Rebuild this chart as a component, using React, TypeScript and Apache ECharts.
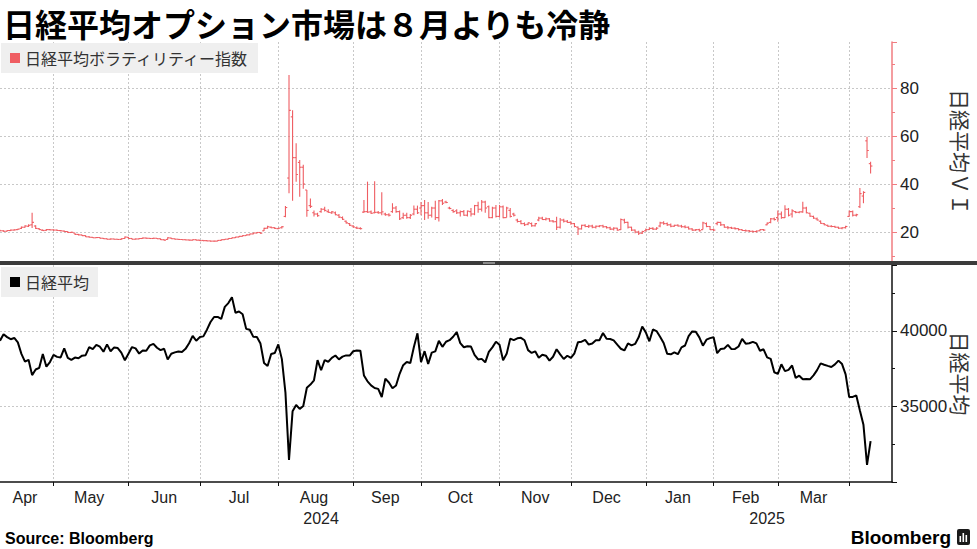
import React, { useEffect, useRef } from "react";
import * as echarts from "echarts";

const TITLE = "日経平均オプション市場は８月よりも冷静";
const VI_NAME = "日経平均ボラティリティー指数";
const NK_NAME = "日経平均";
const VI_AXIS_NAME = "日経平均ＶＩ";
const NK_AXIS_NAME = "日経平均";
const SOURCE = "Source: Bloomberg";
const BRAND = "Bloomberg";

// trading calendar (Tokyo) shown on the x axis
const START_DATE = "2024-04-08";
const END_DATE = "2025-04-16";
const HOLIDAYS = [
  "2024-04-29", "2024-05-03", "2024-05-06", "2024-07-15", "2024-08-12",
  "2024-09-16", "2024-09-23", "2024-10-14", "2024-11-04", "2024-12-31",
  "2025-01-01", "2025-01-02", "2025-01-03", "2025-01-13", "2025-02-11",
  "2025-02-24", "2025-03-20",
];
const MONTH_NAMES = ["Jan", "Feb", "Mar", "Apr", "May", "Jun", "Jul", "Aug", "Sep", "Oct", "Nov", "Dec"];

// Nikkei 225 close, one value per trading day from 2024-04-08
const nikkei = [
  // Apr 2024
  39347, 39773, 39581, 39442, 39523, 39232, 38471, 37962, 38079, 37068, 37438, 37552, 38460, 37628, 37934, 38405,
  // May
  38274, 38236, 38835, 38202, 38073, 38229, 38179, 38356, 38385, 38920, 38787, 39069, 38946, 38617, 39103, 38646, 38900, 38855, 38556, 38054, 38487,
  // Jun
  38923, 38837, 38490, 38703, 38683, 39038, 39134, 38876, 38720, 38814, 38102, 38482, 38570, 38633, 38596, 38804, 39173, 39667, 39341, 39583,
  // Jul
  39631, 40074, 40580, 40913, 40912, 40780, 41580, 41831, 42224, 41190, 41275, 41097, 40126, 40063, 39599, 39594, 39154, 37869, 37667, 38468, 38525, 39101,
  // Aug
  38126, 35909, 31458, 34675, 35089, 34831, 35025, 36232, 36442, 36726, 38062, 37388, 38062, 37951, 38211, 38364, 38110, 38288, 38371, 38362, 38647,
  // Sep
  38700, 38686, 37047, 36657, 36391, 36216, 36159, 35620, 36833, 36581, 36203, 36380, 37155, 37723, 37940, 37870, 38925, 39829, 37919,
  // Oct
  38651, 37808, 38552, 38635, 39332, 38937, 39277, 39380, 39605, 39910, 39180, 38911, 38981, 38954, 38411, 38104, 38143, 37913, 38605, 38903, 39277, 39081,
  // Nov
  38053, 38474, 39480, 39381, 39500, 39533, 39376, 38721, 38535, 38642, 38220, 38414, 38352, 38026, 38283, 38780, 38442, 38134, 38349, 38208,
  // Dec
  38513, 39248, 39276, 39395, 39091, 39161, 39367, 39372, 39849, 39470, 39457, 39364, 39081, 38813, 38701, 39161, 39036, 39130, 39568, 40281, 39894,
  // Jan 2025
  39307, 40083, 39981, 39605, 39190, 38474, 38444, 38572, 38451, 38902, 39027, 39646, 39958, 39931, 39565, 39016, 39414, 39513, 39572,
  // Feb
  38520, 38798, 38831, 39066, 38787, 38801, 38963, 39461, 39149, 39174, 39270, 39164, 38678, 38776, 38237, 38142, 37256, 37155,
  // Mar
  37785, 37331, 37418, 37704, 36887, 37028, 36793, 36819, 36790, 37053, 37396, 37845, 37751, 37677, 37608, 37780, 38027, 37799, 37120, 35617,
  // Apr 2025
  35624, 35725, 34735, 33780, 31136, 32700,
];

// Nikkei VI daily bars: [open, high, low, close]
const viOHLC = [
  // Apr 2024
  [20.6, 20.9, 20.3, 20.5], [20.5, 20.7, 20.1, 20.3], [20.3, 20.8, 20.2, 20.6], [20.6, 21.0, 20.4, 20.8],
  [20.8, 21.1, 20.6, 20.9], [21.0, 21.4, 20.8, 21.2], [21.5, 22.3, 21.3, 22.0], [22.0, 22.8, 21.8, 22.5],
  [22.4, 23.2, 22.1, 22.8], [23.0, 28.0, 21.7, 24.0], [22.5, 22.8, 21.3, 21.5], [21.4, 21.6, 20.8, 21.0],
  [20.8, 21.0, 20.4, 20.6], [20.7, 21.3, 20.5, 21.0], [21.0, 21.2, 20.7, 20.9], [20.9, 21.1, 20.5, 20.8],
  // May
  [20.8, 21.0, 20.4, 20.6], [20.6, 20.8, 20.3, 20.5], [20.4, 20.6, 20.0, 20.2], [20.2, 20.3, 19.6, 19.8],
  [19.8, 20.1, 19.6, 19.9], [19.6, 19.7, 18.9, 19.0], [19.0, 19.2, 18.6, 18.8], [18.8, 18.9, 18.3, 18.5],
  [18.5, 18.6, 17.9, 18.0], [18.0, 18.2, 17.7, 17.8], [17.8, 17.9, 17.5, 17.6], [17.6, 17.9, 17.5, 17.7],
  [17.7, 17.8, 17.3, 17.4], [17.4, 17.5, 17.1, 17.2], [17.2, 17.3, 16.9, 17.0], [17.0, 17.3, 16.9, 17.1],
  [17.1, 17.2, 16.9, 17.0], [17.0, 17.1, 16.8, 16.9], [16.9, 17.4, 16.8, 17.2], [17.3, 18.1, 17.2, 17.9],
  [17.8, 17.9, 17.2, 17.3],
  // Jun
  [17.3, 17.4, 16.9, 17.0], [17.0, 17.3, 16.9, 17.1], [17.1, 17.5, 17.0, 17.3], [17.3, 17.7, 17.2, 17.5],
  [17.5, 17.6, 17.2, 17.4], [17.4, 17.5, 17.1, 17.3], [17.3, 17.6, 17.2, 17.4], [17.4, 17.5, 17.1, 17.2],
  [17.2, 17.3, 16.7, 16.8], [16.8, 16.9, 16.5, 16.6], [16.9, 17.8, 16.8, 17.6], [17.5, 17.6, 17.1, 17.2],
  [17.2, 17.3, 16.9, 17.0], [17.0, 17.1, 16.8, 16.9], [16.9, 17.0, 16.7, 16.8], [16.8, 16.9, 16.6, 16.7],
  [16.7, 16.8, 16.5, 16.6], [16.6, 16.9, 16.5, 16.8], [16.8, 16.9, 16.5, 16.6], [16.6, 16.7, 16.3, 16.4],
  // Jul
  [16.5, 16.6, 16.2, 16.4], [16.4, 16.5, 16.1, 16.3], [16.3, 16.4, 16.0, 16.2], [16.2, 16.4, 16.0, 16.2],
  [16.2, 16.6, 16.1, 16.5], [16.5, 16.9, 16.4, 16.8], [16.8, 17.1, 16.7, 17.0], [17.0, 17.4, 16.9, 17.3],
  [17.3, 17.7, 17.2, 17.6], [17.6, 18.0, 17.5, 17.9], [17.9, 18.3, 17.8, 18.2], [18.2, 18.6, 18.1, 18.5],
  [18.5, 18.9, 18.4, 18.8], [18.8, 19.3, 18.7, 19.2], [19.2, 19.7, 19.1, 19.6], [19.6, 19.9, 19.4, 19.8],
  [19.8, 19.9, 19.3, 19.5], [20.5, 21.8, 20.4, 21.5], [21.6, 22.6, 21.4, 22.2], [22.0, 22.3, 21.6, 21.8],
  [21.8, 22.0, 21.3, 21.5], [21.4, 21.8, 21.2, 21.6],
  // Aug
  [21.8, 22.5, 21.5, 22.2], [26.5, 30.8, 26.2, 30.2], [42.5, 85.4, 36.2, 70.7], [68.0, 70.8, 33.0, 51.0],
  [51.0, 57.0, 41.0, 44.0], [49.0, 50.0, 34.7, 47.0], [47.0, 48.0, 38.0, 40.0], [37.5, 37.5, 26.4, 29.0],
  [31.0, 34.0, 30.0, 30.7], [28.0, 29.0, 26.5, 27.5], [27.5, 28.0, 26.4, 26.8], [28.5, 30.0, 28.0, 29.5],
  [29.5, 30.5, 28.5, 29.0], [28.5, 29.5, 28.0, 28.2], [28.0, 28.8, 27.5, 28.4], [28.0, 28.5, 27.0, 27.2],
  [27.0, 27.5, 25.8, 26.2], [26.0, 26.5, 25.0, 25.3], [24.5, 24.8, 23.5, 23.8], [23.5, 23.8, 22.5, 22.8],
  [22.5, 22.8, 21.8, 22.1],
  // Sep
  [21.8, 22.3, 21.3, 21.6], [21.5, 22.0, 21.0, 21.4], [28.3, 33.3, 28.0, 28.5], [28.5, 41.0, 28.0, 28.3],
  [28.4, 29.0, 27.5, 27.8], [28.0, 41.2, 27.8, 28.2], [28.2, 28.8, 27.6, 28.0], [28.0, 36.6, 27.0, 28.4],
  [27.5, 28.0, 26.8, 27.2], [27.2, 27.8, 26.5, 27.0], [28.5, 32.0, 28.0, 30.0], [30.0, 30.8, 28.0, 28.5],
  [28.5, 29.0, 25.0, 25.5], [26.0, 28.0, 25.4, 27.0], [27.0, 28.0, 25.5, 26.0], [26.0, 27.5, 25.4, 27.0],
  [27.5, 31.0, 27.0, 29.5], [29.5, 31.0, 27.5, 28.0], [30.0, 32.5, 27.0, 31.0],
  // Oct
  [31.0, 33.3, 25.0, 28.0], [28.0, 32.5, 25.5, 27.0], [27.0, 30.5, 26.0, 30.0], [30.0, 33.0, 25.0, 26.0],
  [26.0, 33.3, 24.4, 33.0], [33.0, 33.8, 31.3, 32.0], [32.5, 33.0, 32.0, 32.3], [30.0, 30.5, 29.5, 29.8],
  [29.0, 29.5, 28.0, 28.5], [28.8, 29.5, 27.5, 28.0], [28.0, 29.0, 26.5, 28.5], [28.5, 29.2, 26.8, 27.0],
  [27.0, 29.0, 26.5, 28.7], [28.5, 30.0, 26.5, 27.5], [27.5, 31.3, 27.0, 31.0], [31.0, 32.6, 28.0, 29.5],
  [29.5, 33.3, 28.5, 32.5], [32.5, 33.0, 28.0, 30.0], [30.5, 31.0, 25.7, 26.0], [26.0, 30.5, 25.7, 30.0],
  [30.0, 31.3, 26.0, 26.5], [26.5, 31.3, 26.0, 30.5],
  // Nov
  [30.5, 31.0, 25.7, 26.0], [26.0, 30.5, 26.0, 30.0], [29.0, 30.0, 26.0, 26.5], [27.5, 28.0, 26.5, 27.0],
  [25.0, 25.5, 24.0, 24.4], [24.4, 25.0, 23.2, 23.5], [23.5, 24.0, 22.5, 23.0], [23.2, 24.0, 22.8, 23.8],
  [23.5, 24.0, 22.2, 22.6], [22.6, 23.8, 22.3, 23.5], [25.0, 26.4, 24.5, 25.8], [25.8, 26.4, 25.0, 25.2],
  [25.2, 26.0, 24.8, 25.5], [25.5, 25.8, 24.3, 24.6], [24.6, 25.0, 24.0, 24.3], [24.3, 26.4, 20.8, 22.0],
  [22.0, 25.8, 21.5, 25.0], [25.0, 25.5, 24.0, 24.5], [24.5, 25.0, 23.8, 24.0], [24.0, 24.5, 23.0, 23.5],
  // Dec
  [23.5, 23.8, 22.0, 22.3], [22.0, 22.3, 18.8, 21.3], [21.3, 23.0, 21.0, 22.8], [22.8, 23.2, 22.0, 22.3],
  [22.3, 23.0, 21.7, 22.5], [22.5, 23.0, 21.6, 22.0], [22.0, 22.7, 21.5, 22.4], [22.4, 22.8, 22.0, 22.6],
  [22.6, 23.0, 21.8, 22.2], [22.2, 22.5, 21.5, 21.8], [21.8, 22.2, 20.8, 21.2], [21.2, 22.0, 20.6, 21.6],
  [21.6, 21.8, 20.5, 20.8], [21.0, 25.6, 20.8, 25.2], [25.0, 25.5, 23.5, 24.0], [24.0, 24.3, 21.5, 22.0],
  [22.0, 22.2, 20.4, 20.8], [20.8, 21.0, 19.5, 20.0], [20.0, 20.5, 18.8, 19.5], [19.5, 20.5, 19.2, 20.2],
  [20.5, 21.5, 20.2, 21.0],
  // Jan 2025
  [21.0, 22.0, 20.8, 21.5], [21.5, 22.0, 20.8, 21.2], [21.2, 22.0, 20.9, 21.6], [22.5, 24.3, 22.0, 23.8],
  [23.8, 24.5, 23.0, 23.5], [23.5, 24.0, 22.5, 23.0], [23.0, 23.5, 22.0, 22.4], [22.4, 23.0, 22.2, 22.8],
  [22.8, 23.2, 22.3, 22.5], [22.5, 23.0, 21.8, 22.2], [22.2, 22.8, 21.6, 22.0], [22.0, 22.3, 21.0, 21.3],
  [21.3, 21.6, 20.5, 20.8], [20.8, 21.3, 20.4, 21.0], [21.0, 21.4, 20.2, 20.5], [21.0, 24.3, 21.0, 23.8],
  [23.5, 24.0, 22.0, 22.3], [22.3, 22.5, 20.8, 21.0], [21.0, 21.5, 20.4, 20.8],
  // Feb
  [23.5, 24.3, 22.8, 24.0], [24.0, 24.3, 22.5, 23.0], [23.0, 23.2, 21.8, 22.0], [22.0, 22.5, 21.2, 21.8],
  [21.8, 22.2, 21.3, 21.6], [21.6, 22.0, 21.0, 21.4], [21.4, 21.6, 20.6, 21.0], [21.0, 21.2, 20.4, 20.6],
  [20.6, 21.0, 20.2, 20.5], [20.5, 20.8, 20.0, 20.3], [20.3, 20.6, 19.8, 20.2], [20.2, 20.6, 19.8, 20.4],
  [20.5, 21.2, 20.3, 21.0], [21.0, 21.3, 20.5, 20.8], [23.0, 24.0, 22.8, 23.7], [24.0, 25.8, 23.7, 25.5],
  [25.5, 26.0, 24.8, 25.2], [26.0, 29.0, 24.3, 27.5],
  // Mar
  [27.5, 28.5, 25.5, 26.0], [26.0, 31.2, 25.8, 29.5], [29.5, 30.0, 26.5, 27.0], [27.5, 29.5, 26.0, 28.8],
  [28.5, 28.8, 27.8, 28.2], [28.2, 28.6, 27.8, 28.4], [28.4, 32.6, 28.0, 30.0], [30.0, 30.5, 27.8, 28.0],
  [27.8, 28.0, 26.4, 26.6], [26.5, 26.8, 25.5, 25.8], [25.5, 26.0, 24.8, 25.0], [24.5, 24.8, 23.4, 23.6],
  [23.5, 23.8, 22.8, 23.0], [22.8, 23.0, 22.2, 22.4], [22.4, 22.8, 22.0, 22.3], [22.3, 22.6, 21.8, 22.0],
  [22.0, 22.2, 21.3, 21.6], [21.6, 22.0, 21.2, 21.8], [21.8, 22.6, 21.5, 22.3], [26.5, 29.0, 26.4, 28.5],
  // Apr 2025
  [28.5, 29.0, 26.5, 27.0], [27.0, 27.6, 26.5, 27.2], [30.5, 38.3, 30.0, 36.0], [35.0, 37.0, 32.0, 36.5],
  [58.0, 59.7, 50.8, 54.0], [48.5, 49.3, 44.4, 47.5],
];

const RED = "#ef5d62";
const RED_AXIS = "#f07c80";
const GRID_COLOR = "#c8c8c8";
const CJK = '"Noto Sans CJK JP", "Noto Sans", sans-serif';
const LAT = '"Liberation Sans", Arial, "Noto Sans CJK JP", sans-serif';

function tradingDays(start: string, end: string, holidays: string[]): string[] {
  const out: string[] = [];
  const [sy, sm, sd] = start.split("-").map(Number);
  const [ey, em, ed] = end.split("-").map(Number);
  const hol = new Set(holidays);
  let t = Date.UTC(sy, sm - 1, sd);
  const stop = Date.UTC(ey, em - 1, ed);
  while (t <= stop) {
    const d = new Date(t);
    const wd = d.getUTCDay();
    const s = d.toISOString().slice(0, 10);
    if (wd !== 0 && wd !== 6 && !hol.has(s)) out.push(s);
    t += 86400000;
  }
  return out;
}

export default function App() {
  const ref = useRef<HTMLDivElement>(null);

  useEffect(() => {
    if (!ref.current) return;
    const chart = echarts.init(ref.current, undefined, { renderer: "svg" });

    const cats = tradingDays(START_DATE, END_DATE, HOLIDAYS);
    const last = cats.length - 1;

    // indices of last trading day of each month (month-boundary grid lines)
    const monthEnds: number[] = [];
    for (let i = 0; i < last; i++) {
      if (cats[i].slice(0, 7) !== cats[i + 1].slice(0, 7)) monthEnds.push(i);
    }
    const monthEndSet = new Set(monthEnds);

    // month labels centred on each visible month (short trailing month unlabelled)
    const monthLabelAt: Record<number, string> = {};
    const bounds = [0, ...monthEnds, last];
    for (let k = 0; k < bounds.length - 1; k++) {
      const a = bounds[k];
      const b = bounds[k + 1];
      if (b - a < 15) continue;
      const mid = Math.floor((a + b) / 2);
      const m = Number(cats[b].slice(5, 7)) - 1;
      monthLabelAt[mid] = MONTH_NAMES[m];
    }

    // year labels centred on each visible year
    const yearLabelAt: Record<number, string> = {};
    const yearEnds: number[] = [];
    for (let i = 0; i < last; i++) {
      if (cats[i].slice(0, 4) !== cats[i + 1].slice(0, 4)) yearEnds.push(i);
    }
    const yb = [0, ...yearEnds, last];
    for (let k = 0; k < yb.length - 1; k++) {
      const mid = Math.floor((yb[k] + yb[k + 1]) / 2);
      yearLabelAt[mid] = cats[yb[k + 1]].slice(0, 4);
    }

    const gridLine = { show: true, lineStyle: { color: GRID_COLOR, type: [2, 2] as any, width: 1 } };
    const plain = (v: number) => String(v);

    const option: any = {
      animation: false,
      backgroundColor: "#ffffff",
      grid: [
        { left: 0, right: 85, top: 42, height: 220, outerBoundsMode: "none" },
        { left: 0, right: 85, top: 265, height: 217, outerBoundsMode: "none" },
      ],
      legend: [
        {
          data: [{ name: VI_NAME, icon: "rect" }],
          left: 1,
          top: 43,
          backgroundColor: "#efefef",
          padding: [7, 9, 7, 9],
          itemWidth: 10,
          itemHeight: 10,
          selectedMode: false,
          textStyle: { fontSize: 16, color: "#333", fontFamily: CJK },
        },
        {
          data: [{ name: NK_NAME, icon: "rect" }],
          left: 1,
          top: 267,
          backgroundColor: "#efefef",
          padding: [7, 9, 7, 9],
          itemWidth: 10,
          itemHeight: 10,
          selectedMode: false,
          textStyle: { fontSize: 16, color: "#333", fontFamily: CJK },
        },
      ],
      xAxis: [
        {
          gridIndex: 0,
          type: "category",
          data: cats,
          boundaryGap: false,
          axisLine: { show: false },
          axisTick: { show: false },
          axisLabel: { show: false },
          splitLine: { ...gridLine, interval: (i: number) => monthEndSet.has(i) },
        },
        {
          gridIndex: 1,
          type: "category",
          data: cats,
          boundaryGap: false,
          axisLine: { show: true, lineStyle: { color: "#111", width: 1.5 } },
          axisTick: { show: true, length: 4, interval: (i: number) => monthEndSet.has(i), lineStyle: { color: "#111" } },
          axisLabel: {
            show: true,
            interval: (i: number) => monthLabelAt[i] !== undefined,
            formatter: (_v: string, i: number) => monthLabelAt[i] ?? "",
            fontSize: 16,
            color: "#222",
            fontFamily: LAT,
            margin: 7,
          },
          splitLine: { ...gridLine, interval: (i: number) => monthEndSet.has(i) },
        },
        {
          gridIndex: 1,
          type: "category",
          data: cats,
          boundaryGap: false,
          position: "bottom",
          offset: 21,
          axisLine: { show: false },
          axisTick: { show: false },
          splitLine: { show: false },
          axisLabel: {
            show: true,
            interval: (i: number) => yearLabelAt[i] !== undefined,
            formatter: (_v: string, i: number) => yearLabelAt[i] ?? "",
            fontSize: 16,
            color: "#222",
            fontFamily: LAT,
            margin: 7,
          },
        },
      ],
      yAxis: [
        {
          gridIndex: 0,
          type: "value",
          position: "right",
          min: 7.5,
          max: 99.2,
          axisLine: { show: true, lineStyle: { color: RED_AXIS, width: 1.5 } },
          axisTick: { show: true, length: 5, lineStyle: { color: RED_AXIS } },
          minorTick: { show: true, splitNumber: 2, length: 3, lineStyle: { color: RED_AXIS } },
          axisLabel: {
            show: true,
            color: "#222",
            fontSize: 17,
            fontFamily: LAT,
            margin: 8,
            showMinLabel: false,
            showMaxLabel: false,
            formatter: plain,
          },
          splitLine: { ...gridLine, showMinLine: false, showMaxLine: false },
          name: VI_AXIS_NAME,
          nameLocation: "middle",
          nameRotate: -90,
          nameGap: 59,
          nameMoveOverlap: false,
          nameTextStyle: { fontSize: 21, color: "#333", fontFamily: CJK },
        },
        {
          gridIndex: 1,
          type: "value",
          position: "right",
          min: 30000,
          max: 44350,
          interval: 5000,
          axisLine: { show: true, lineStyle: { color: "#111", width: 1.5 } },
          axisTick: { show: true, length: 5, lineStyle: { color: "#111" } },
          minorTick: { show: true, splitNumber: 2, length: 3, lineStyle: { color: "#111" } },
          axisLabel: {
            show: true,
            color: "#222",
            fontSize: 17,
            fontFamily: LAT,
            margin: 8,
            showMinLabel: false,
            showMaxLabel: false,
            formatter: plain,
          },
          splitLine: { ...gridLine, showMinLine: false, showMaxLine: false },
          name: NK_AXIS_NAME,
          nameLocation: "middle",
          nameRotate: -90,
          nameGap: 59,
          nameMoveOverlap: false,
          nameTextStyle: { fontSize: 21, color: "#333", fontFamily: CJK },
        },
      ],
      series: [
        {
          type: "custom",
          name: VI_NAME,
          xAxisIndex: 0,
          yAxisIndex: 0,
          data: viOHLC.map((r, i) => [i, r[0], r[1], r[2], r[3]]),
          encode: { x: 0, y: [1, 2, 3, 4] },
          itemStyle: { color: RED },
          renderItem: (_params: any, api: any) => {
            const i = api.value(0);
            const o = api.coord([i, api.value(1)]);
            const h = api.coord([i, api.value(2)]);
            const l = api.coord([i, api.value(3)]);
            const c = api.coord([i, api.value(4)]);
            const w = 1.8;
            const style = { stroke: RED, lineWidth: 1.1 };
            return {
              type: "group",
              children: [
                { type: "line", shape: { x1: h[0], y1: h[1], x2: l[0], y2: l[1] }, style },
                { type: "line", shape: { x1: o[0] - w, y1: o[1], x2: o[0], y2: o[1] }, style },
                { type: "line", shape: { x1: c[0], y1: c[1], x2: c[0] + w, y2: c[1] }, style },
              ],
            };
          },
        },
        {
          type: "line",
          name: NK_NAME,
          xAxisIndex: 1,
          yAxisIndex: 1,
          data: nikkei,
          showSymbol: false,
          symbol: "none",
          itemStyle: { color: "#000" },
          lineStyle: { color: "#000", width: 2 },
        },
      ],
      graphic: [
        {
          type: "text",
          x: 3,
          y: 23,
          style: {
            text: TITLE,
            fontSize: 32,
            lineHeight: 36,
            fontWeight: "bold",
            fontFamily: CJK,
            fill: "#000",
            verticalAlign: "middle",
            align: "left",
          },
        },
        { type: "rect", shape: { x: 0, y: 261, width: 977, height: 4 }, style: { fill: "#3b3b3b" }, z: 100 },
        { type: "rect", shape: { x: 483, y: 262, width: 12, height: 2 }, style: { fill: "#8c8c8c" }, z: 101 },
        {
          type: "text",
          x: 5,
          y: 538,
          style: {
            text: SOURCE,
            fontSize: 16,
            fontWeight: "bold",
            fontFamily: LAT,
            fill: "#000",
            verticalAlign: "middle",
            align: "left",
          },
        },
        {
          type: "text",
          x: 951,
          y: 537,
          style: {
            text: BRAND,
            fontSize: 19,
            fontWeight: "bold",
            fontFamily: LAT,
            fill: "#000",
            verticalAlign: "middle",
            align: "right",
          },
        },
        { type: "rect", shape: { x: 957, y: 529, width: 13, height: 16, r: 2 }, style: { fill: "#1a1a1a" } },
        { type: "rect", shape: { x: 959.5, y: 536, width: 1.6, height: 6 }, style: { fill: "#fff" } },
        { type: "rect", shape: { x: 962.5, y: 533, width: 1.6, height: 9 }, style: { fill: "#fff" } },
        { type: "rect", shape: { x: 965.5, y: 535, width: 1.6, height: 7 }, style: { fill: "#fff" } },
      ],
    };

    chart.setOption(option);
    return () => chart.dispose();
  }, []);

  return (
    <div
      ref={ref}
      style={{ position: "absolute", left: 0, top: 0, width: 977, height: 549, background: "#fff" }}
    />
  );
}
